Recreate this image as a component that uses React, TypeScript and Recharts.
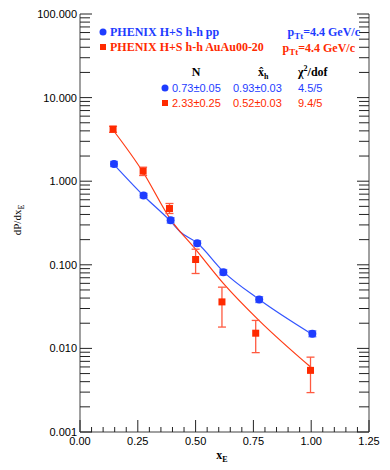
import React from 'react';
import { ComposedChart, Scatter, Line, XAxis, YAxis, ErrorBar, Customized } from 'recharts';

// pp points
const ppX = [0.147, 0.275, 0.392, 0.507, 0.62, 0.775, 1.005];
const ppY = [1.61, 0.674, 0.341, 0.181, 0.0815, 0.0385, 0.015];
const ppErr = [0.11, 0.04, 0.025, 0.013, 0.006, 0.003, 0.0012];

// AuAu 0-20% points
const auX = [0.143, 0.273, 0.387, 0.5, 0.614, 0.76, 0.997];
const auY = [4.19, 1.32, 0.471, 0.1157, 0.036, 0.0152, 0.00546];
const auErrLo = [0.35, 0.15, 0.06, 0.037, 0.018, 0.0063, 0.0025];
const auErrHi = [0.35, 0.15, 0.07, 0.038, 0.018, 0.0064, 0.0024];

// fit curves
const ppFitX = [0.147, 0.275, 0.39, 0.434, 0.507, 0.62, 0.775, 1.0];
const ppFitY = [1.58, 0.67, 0.335, 0.247, 0.182, 0.083, 0.0385, 0.015];
const auFitX = [0.143, 0.273, 0.39, 0.5, 0.62, 0.775, 1.0];
const auFitY = [4.1, 1.28, 0.355, 0.153, 0.06, 0.0215, 0.0059];

const xTicks = [0, 0.05, 0.1, 0.15, 0.2, 0.25, 0.3, 0.35, 0.4, 0.45, 0.5, 0.55, 0.6, 0.65, 0.7, 0.75, 0.8, 0.85, 0.9, 0.95, 1.0, 1.05, 1.1, 1.15, 1.2, 1.25];
const decades = [0.001, 0.01, 0.1, 1, 10, 100];
const yTicks: number[] = [];
decades.forEach((d, i) => {
  if (i === decades.length - 1) {
    yTicks.push(d);
    return;
  }
  for (let m = 1; m <= 9; m++) yTicks.push(+(d * m).toPrecision(3));
});

const ppData = ppX.map((x, i) => ({ x, y: ppY[i], err: [ppErr[i], ppErr[i]] }));
const auData = auX.map((x, i) => ({ x, y: auY[i], err: [auErrLo[i], auErrHi[i]] }));
const ppFit = ppFitX.map((x, i) => ({ x, y: ppFitY[i] }));
const auFit = auFitX.map((x, i) => ({ x, y: auFitY[i] }));

const BLUE = '#1e3cff';
const RED = '#ff2a00';
const FRAME = '#808080';
const sans = '"Liberation Sans", Arial, sans-serif';
const serif = '"Liberation Serif", "Times New Roman", serif';

const isDecade = (v: number) => decades.some(d => Math.abs(v - d) < d * 1e-6);
const isMajorX = (v: number) => Math.abs(v / 0.25 - Math.round(v / 0.25)) < 1e-6;

const LeftTick = (props: any) => {
  const { x, y, payload } = props;
  const major = isDecade(payload.value);
  return (
    <g>
      <line x1={x} x2={x + (major ? 12 : 10)} y1={y} y2={y} stroke="#222" strokeWidth={1} />
      {major && (
        <text x={x - 3} y={y + 4} textAnchor="end" fontFamily={sans} fontSize={11} fill="#000">
          {payload.value.toFixed(3)}
        </text>
      )}
    </g>
  );
};

const RightTick = (props: any) => {
  const { x, y, payload } = props;
  const major = isDecade(payload.value);
  return <line x1={x} x2={x - (major ? 12 : 10)} y1={y} y2={y} stroke="#222" strokeWidth={1} />;
};

const BottomTick = (props: any) => {
  const { x, y, payload } = props;
  const major = isMajorX(payload.value);
  return (
    <g>
      <line x1={x} x2={x} y1={y} y2={y - (major ? 12 : 5)} stroke="#222" strokeWidth={1} />
      {major && (
        <text x={x} y={y + 13} textAnchor="middle" fontFamily={sans} fontSize={11} fill="#000">
          {payload.value.toFixed(2)}
        </text>
      )}
    </g>
  );
};

const TopTick = (props: any) => {
  const { x, y, payload } = props;
  const major = isMajorX(payload.value);
  return <line x1={x} x2={x} y1={y} y2={y + (major ? 12 : 5)} stroke="#222" strokeWidth={1} />;
};

const Circle = (props: any) => <circle cx={props.cx} cy={props.cy} r={4} fill={BLUE} />;
const Square = (props: any) => <rect x={props.cx - 3.5} y={props.cy - 3.5} width={7} height={7} fill={RED} />;

const Annotations = () => (
  <g fontWeight="bold">
    <circle cx={103} cy={32} r={3.5} fill={BLUE} />
    <text x={110} y={36} fontFamily={serif} fontSize={12} fill={BLUE}>PHENIX H+S h-h pp</text>
    <rect x={100} y={44} width={6} height={6} fill={RED} />
    <text x={110} y={51} fontFamily={serif} fontSize={12} fill={RED}>PHENIX H+S h-h AuAu00-20</text>

    <text x={360} y={36} textAnchor="end" fontFamily={serif} fontSize={12} fill={BLUE}>
      p<tspan fontSize={9} dy={3}>Tt</tspan><tspan dy={-3}>=4.4 GeV/c</tspan>
    </text>
    <text x={355} y={52} textAnchor="end" fontFamily={serif} fontSize={12} fill={RED}>
      p<tspan fontSize={9} dy={3}>Tt</tspan><tspan dy={-3}>=4.4 GeV/c</tspan>
    </text>

    <text x={196} y={76} textAnchor="middle" fontFamily={serif} fontSize={12} fill="#000">N</text>
    <text x={258} y={76} fontFamily={serif} fontSize={12} fill="#000">
      x̂<tspan fontSize={8} dy={3}>h</tspan>
    </text>
    <text x={298} y={76} fontFamily={serif} fontSize={12} fill="#000">
      χ<tspan fontSize={8} dy={-5}>2</tspan><tspan dy={5}>/dof</tspan>
    </text>

    <circle cx={165} cy={88} r={3.5} fill={BLUE} />
    <g fontFamily={sans} fontSize={11} fontWeight="normal" fill={BLUE}>
      <text x={172} y={92}>0.73±0.05</text>
      <text x={233} y={92}>0.93±0.03</text>
      <text x={298} y={92}>4.5/5</text>
    </g>
    <rect x={162} y={100} width={6} height={6} fill={RED} />
    <g fontFamily={sans} fontSize={11} fontWeight="normal" fill={RED}>
      <text x={172} y={107}>2.33±0.25</text>
      <text x={233} y={107}>0.52±0.03</text>
      <text x={298} y={107}>9.4/5</text>
    </g>

    <text x={21} y={220} transform="rotate(-90 21 220)" textAnchor="middle" fontFamily={serif} fontSize={11} fontWeight="normal" fill="#000">
      dP/dx<tspan fontSize={8} dy={3}>E</tspan>
    </text>
    <text x={222} y={459} textAnchor="middle" fontFamily={serif} fontSize={12} fill="#000">
      x<tspan fontSize={8} dy={3}>E</tspan>
    </text>
  </g>
);

export default function App() {
  return (
    <div style={{ position: 'absolute', left: 0, top: 0, width: 390, height: 470, background: '#fff' }}>
      <ComposedChart width={390} height={470} margin={{ top: 14, right: 0, bottom: 8, left: 0 }}>
        <XAxis
          xAxisId="bottom"
          dataKey="x"
          type="number"
          domain={[0, 1.25]}
          ticks={xTicks}
          interval={0}
          height={30}
          tickSize={0}
          tickMargin={0}
          tick={<BottomTick />}
          axisLine={{ stroke: FRAME, strokeWidth: 1.5 }}
          allowDataOverflow
        />
        <XAxis
          xAxisId="top"
          orientation="top"
          dataKey="x"
          type="number"
          domain={[0, 1.25]}
          ticks={xTicks}
          interval={0}
          height={0}
          tickSize={0}
          tickMargin={0}
          tick={<TopTick />}
          axisLine={{ stroke: FRAME, strokeWidth: 1.5 }}
          allowDataOverflow
        />
        <YAxis
          yAxisId="left"
          scale="log"
          type="number"
          domain={[0.001, 100]}
          ticks={yTicks}
          interval={0}
          width={80}
          tickSize={0}
          tickMargin={0}
          tick={<LeftTick />}
          axisLine={{ stroke: FRAME, strokeWidth: 1.5 }}
          allowDataOverflow
        />
        <YAxis
          yAxisId="right"
          orientation="right"
          scale="log"
          type="number"
          domain={[0.001, 100]}
          ticks={yTicks}
          interval={0}
          width={21}
          tickSize={0}
          tickMargin={0}
          tick={<RightTick />}
          axisLine={{ stroke: FRAME, strokeWidth: 1.5 }}
          allowDataOverflow
        />
        <Line
          data={ppFit}
          xAxisId="bottom"
          yAxisId="left"
          dataKey="y"
          type="monotone"
          stroke="#3355ff"
          strokeWidth={1.2}
          dot={false}
          isAnimationActive={false}
        />
        <Line
          data={auFit}
          xAxisId="bottom"
          yAxisId="left"
          dataKey="y"
          type="monotone"
          stroke="#ff3b14"
          strokeWidth={1.2}
          dot={false}
          isAnimationActive={false}
        />
        <Scatter data={ppData} xAxisId="bottom" yAxisId="left" dataKey="y" shape={<Circle />} isAnimationActive={false}>
          <ErrorBar dataKey="err" direction="y" width={4} stroke="#6f86ff" strokeWidth={1.5} isAnimationActive={false} />
        </Scatter>
        <Scatter data={auData} xAxisId="bottom" yAxisId="left" dataKey="y" shape={<Square />} isAnimationActive={false}>
          <ErrorBar dataKey="err" direction="y" width={4} stroke="#ff5a40" strokeWidth={1.3} isAnimationActive={false} />
        </Scatter>
        <Customized component={<Annotations />} />
      </ComposedChart>
    </div>
  );
}
